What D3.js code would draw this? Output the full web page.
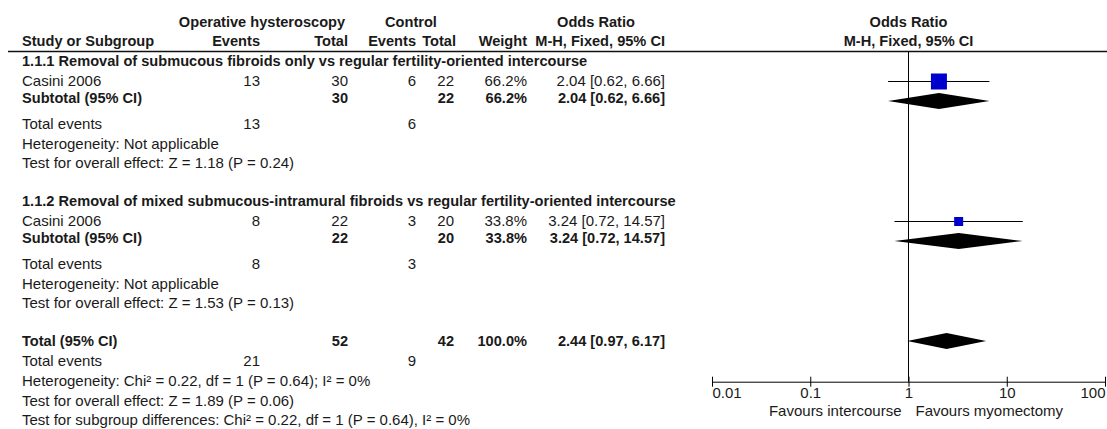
<!DOCTYPE html>
<html><head><meta charset="utf-8">
<script src="https://cdn.jsdelivr.net/npm/d3@7"></script>
<style>
body{margin:0;background:#fff}
svg{display:block}
text{font-family:"Liberation Sans", Arial, sans-serif;fill:#1a1a1a}
</style>
</head><body><svg id="c" width="1107" height="429"></svg>
<script>
// ---------- data ----------
const subgroupTitles = [
  "1.1.1 Removal of submucous fibroids only vs regular fertility-oriented intercourse",
  "1.1.2 Removal of mixed submucous-intramural fibroids vs regular fertility-oriented intercourse"
];
const studyNames = ["Casini 2006", "Casini 2006"];
const expEvents = [13, 8];
const expTotals = [30, 22];
const ctlEvents = [6, 3];
const ctlTotals = [22, 20];
const weights = [66.2, 33.8];
const orEst = [2.04, 3.24];
const orLow = [0.62, 0.72];
const orHigh = [6.66, 14.57];
const subHeterogeneity = ["Heterogeneity: Not applicable", "Heterogeneity: Not applicable"];
const subOverall = ["Test for overall effect: Z = 1.18 (P = 0.24)", "Test for overall effect: Z = 1.53 (P = 0.13)"];
const totalCounts = [21, 52, 9, 42];       // exp events, exp total, ctl events, ctl total
const totalWeight = [100.0];
const totalOR = [2.44, 0.97, 6.17];        // est, low, high
const totalNotes = [
  "Heterogeneity: Chi\u00B2 = 0.22, df = 1 (P = 0.64); I\u00B2 = 0%",
  "Test for overall effect: Z = 1.89 (P = 0.06)",
  "Test for subgroup differences: Chi\u00B2 = 0.22, df = 1 (P = 0.64), I\u00B2 = 0%"
];
const tickValues = [0.01, 0.1, 1, 10, 100];
const tickLabels = ["0.01", "0.1", "1", "10", "100"];
const favourLabels = ["Favours intercourse", "Favours myomectomy"];
const headerTop = ["Operative hysteroscopy", "Control", "Odds Ratio", "Odds Ratio"];
const headerBottom = ["Study or Subgroup", "Events", "Total", "Events", "Total", "Weight", "M-H, Fixed, 95% CI", "M-H, Fixed, 95% CI"];

// ---------- layout ----------
const svg = d3.select("#c");
const FS = 15, FSB = 14.6;
const fmtW = d3.format(".1f"), fmtOR = d3.format(".2f");
const col = {label: 22, ev1: 260, tot1: 348, ev2: 416, tot2: 454, w: 527, ci: 665};
const x = d3.scaleLog().domain([0.01, 100]).range([712, 1105]);
const axisY = 381.7;
const lineY = 51.5;

function txt(s, xx, yy, anchor, bold) {
  return svg.append("text").attr("x", xx).attr("y", yy + 5)
    .attr("text-anchor", anchor || "start")
    .style("font-size", (bold ? FSB : FS) + "px")
    .style("font-weight", bold ? "bold" : "normal")
    .text(s);
}

// headers
txt(headerTop[0], 262, 21.5, "middle", true);
txt(headerTop[1], 411, 21.5, "middle", true);
txt(headerTop[2], 596, 21.5, "middle", true);
txt(headerTop[3], x(1), 21.5, "middle", true);
txt(headerBottom[0], col.label, 41, "start", true);
txt(headerBottom[1], col.ev1, 41, "end", true);
txt(headerBottom[2], col.tot1, 41, "end", true);
txt(headerBottom[3], col.ev2, 41, "end", true);
txt(headerBottom[4], col.tot2 + 2, 41, "end", true);
txt(headerBottom[5], col.w, 41, "end", true);
txt(headerBottom[6], col.ci, 41, "end", true);
txt(headerBottom[7], x(1), 41, "middle", true);

svg.append("line").attr("x1", 8).attr("x2", 1107).attr("y1", lineY).attr("y2", lineY)
  .attr("stroke", "#111").attr("stroke-width", 1.5);

// row positions for the subgroup blocks
const blockStart = [61, 201];
const off = {study: 20, sub: 37, events: 63, het: 82.5, test: 102};
const diamondHalf = 8;
const wScale = d3.scaleLinear().domain([33.8, 66.2]).range([9, 16]);

function diamond(est, lo, hi, yc) {
  const pts = [[x(lo), yc], [x(est), yc - diamondHalf], [x(hi), yc], [x(est), yc + diamondHalf]];
  svg.append("polygon").attr("points", pts.map(p => p.join(",")).join(" ")).attr("fill", "#000");
}

subgroupTitles.forEach((title, i) => {
  const y0 = blockStart[i];
  txt(title, col.label, y0, "start", true);
  const ys = y0 + off.study;
  txt(studyNames[i], col.label, ys);
  txt(expEvents[i], col.ev1, ys, "end");
  txt(expTotals[i], col.tot1, ys, "end");
  txt(ctlEvents[i], col.ev2, ys, "end");
  txt(ctlTotals[i], col.tot2, ys, "end");
  txt(fmtW(weights[i]) + "%", col.w, ys, "end");
  txt(`${fmtOR(orEst[i])} [${fmtOR(orLow[i])}, ${fmtOR(orHigh[i])}]`, col.ci, ys, "end");
  const yb = y0 + off.sub;
  txt("Subtotal (95% CI)", col.label, yb, "start", true);
  txt(expTotals[i], col.tot1, yb, "end", true);
  txt(ctlTotals[i], col.tot2, yb, "end", true);
  txt(fmtW(weights[i]) + "%", col.w, yb, "end", true);
  txt(`${fmtOR(orEst[i])} [${fmtOR(orLow[i])}, ${fmtOR(orHigh[i])}]`, col.ci, yb, "end", true);
  const ye = y0 + off.events;
  txt("Total events", col.label, ye);
  txt(expEvents[i], col.ev1, ye, "end");
  txt(ctlEvents[i], col.ev2, ye, "end");
  txt(subHeterogeneity[i], col.label, y0 + off.het);
  txt(subOverall[i], col.label, y0 + off.test);

  // plot marks
  const yp = ys + 0.5;
  svg.append("line").attr("x1", x(orLow[i])).attr("x2", x(orHigh[i]))
    .attr("y1", yp).attr("y2", yp).attr("stroke", "#000").attr("stroke-width", 1);
  const s = wScale(weights[i]);
  svg.append("rect").attr("x", x(orEst[i]) - s / 2).attr("y", yp - s / 2)
    .attr("width", s).attr("height", s).attr("fill", "#0000cc");
  diamond(orEst[i], orLow[i], orHigh[i], yb + 3);
});

// overall rows
const yT = 341;
txt("Total (95% CI)", col.label, yT, "start", true);
txt(totalCounts[1], col.tot1, yT, "end", true);
txt(totalCounts[3], col.tot2, yT, "end", true);
txt(fmtW(totalWeight[0]) + "%", col.w, yT, "end", true);
txt(`${fmtOR(totalOR[0])} [${fmtOR(totalOR[1])}, ${fmtOR(totalOR[2])}]`, col.ci, yT, "end", true);
diamond(totalOR[0], totalOR[1], totalOR[2], yT);
txt("Total events", col.label, 361);
txt(totalCounts[0], col.ev1, 361, "end");
txt(totalCounts[2], col.ev2, 361, "end");
totalNotes.forEach((n, k) => txt(n, col.label, 381 + k * 19.5));

// null line
svg.append("line").attr("x1", x(1)).attr("x2", x(1)).attr("y1", lineY).attr("y2", axisY)
  .attr("stroke", "#000").attr("stroke-width", 1);

// axis
const axis = d3.axisBottom(x).tickValues(tickValues).tickFormat((d, i) => tickLabels[i]).tickSizeOuter(0);
const g = svg.append("g").attr("transform", `translate(0,${axisY})`).call(axis);
g.select(".domain").attr("stroke", "#000");
g.selectAll(".tick line").attr("y1", -5).attr("y2", 5).attr("stroke", "#000");
g.selectAll(".tick text").attr("y", 6).attr("dy", "0.71em")
  .style("font-family", '"Liberation Sans", Arial, sans-serif').style("font-size", FS + "px")
  .attr("fill", "#1a1a1a")
  .attr("text-anchor", (d, i) => i === 0 ? "start" : (i === tickValues.length - 1 ? "end" : "middle"));
txt(favourLabels[0], x(1) - 7, 411, "end");
txt(favourLabels[1], x(1) + 7, 411, "start");
</script></body></html>
